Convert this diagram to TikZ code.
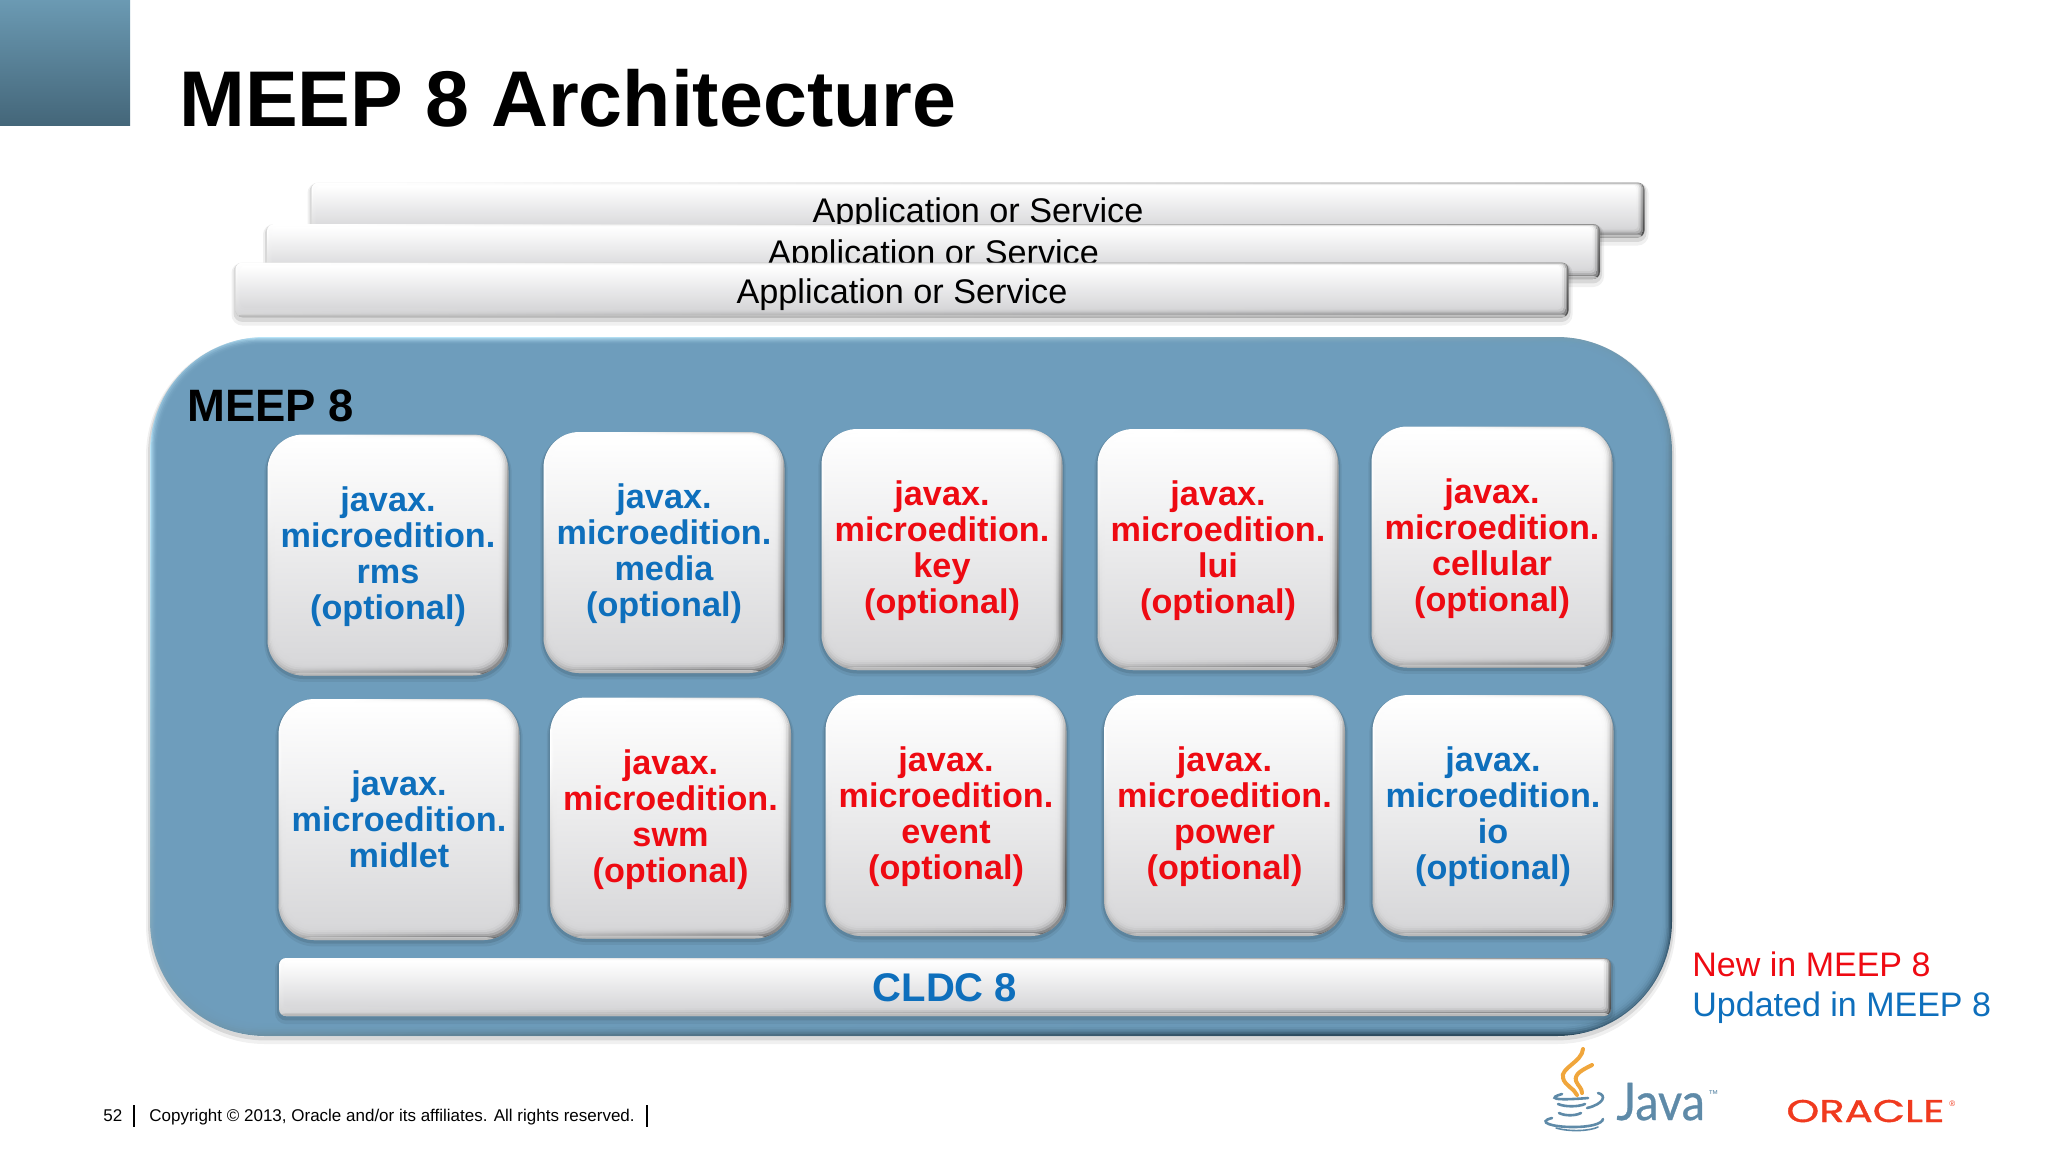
\documentclass[tikz,border=0pt]{standalone}
\usepackage{fontspec}
\setmainfont{Liberation Sans}
\newfontfamily\oraclefont{Poppins}[FakeBold=1.2,FakeStretch=1.33]
\newfontfamily\javafont{Lato}[FakeBold=0.6,FakeStretch=.9]
\usetikzlibrary{calc}
\definecolor{blu}{HTML}{0E6FBC}
\definecolor{rdd}{HTML}{EE0A12}
\definecolor{panelblue}{HTML}{6E9DBC}
\definecolor{facelow}{HTML}{D8D8DA}
\definecolor{jblue}{HTML}{5E8AA8}
\definecolor{HeadTop}{HTML}{6B9AB3}
\definecolor{HeadLow}{HTML}{446679}
\definecolor{HeadFlame}{HTML}{F0A63C}
\definecolor{OracleRed}{HTML}{F03A1E}
\definecolor{panellight}{HTML}{B8E4F8}
\definecolor{paneldark}{HTML}{2C4B5F}
\tikzset{
  soft shadow/.style={
    preaction={draw=black,opacity=.06,line width=#1*2pt,transform canvas={yshift=-#1*1pt}},
    preaction={draw=black,opacity=.10,line width=#1*1pt,transform canvas={yshift=-#1*.6pt}}},
  % face laid over a darker shaded base, a few insets to blur the edge
  face inset/.style n args={2}{path picture={
    \fill[gray!55] ($(path picture bounding box.south west)$) rectangle
      ($(path picture bounding box.south east)+(0pt,1.5pt)$);
    \foreach \d/\o in {#1}{
      \shade[top color=white,bottom color=facelow,opacity=\o,rounded corners=#2]
        ($(path picture bounding box.south west)+(\d*.5pt,\d*1pt)$) rectangle
        ($(path picture bounding box.north east)+(-\d*.8pt,-\d*.3pt)$);
    }}},
  key/.style={rectangle,rounded corners=18pt,minimum width=120.5pt,minimum height=120.5pt,
    inner sep=0pt,align=center,soft shadow=1.6,
    shade,top color=white,middle color=gray!60,bottom color=black!62,shading angle=40,
    face inset={1/.35,2/.4,3/.5,4/.6,5/.7,6/.8,7/1}{15pt},
    font=\fontsize{17.1}{18}\selectfont\bfseries},
  % fixed text height pushes the four line labels down a little
  key4/.style={key,text height=68pt},
  bar/.style={rectangle,rounded corners=3.5pt,minimum width=666.5pt,minimum height=27.5pt,
    inner sep=0pt,soft shadow=2,
    shade,top color=white,middle color=gray!70,bottom color=black!68,shading angle=6,
    face inset={1/.4,2/.5,3/.6,4/.8,5/1}{2pt},
    text height=15pt,text depth=2pt,font=\fontsize{17.1}{17}\selectfont},
  panel/.style={rectangle,rounded corners=57.5pt,minimum width=761pt,minimum height=349.5pt,
    inner sep=0pt,soft shadow=2,
    shade,top color=panellight,middle color=panelblue,bottom color=paneldark,
    shading angle=25,
    path picture={
      \foreach \d/\o in {1/.3,2/.35,3/.4,4/.5,5/.6,6/.7,7/1}{
        \fill[panelblue,opacity=\o,rounded corners=53pt]
          ($(path picture bounding box.south west)+(\d*.6pt,\d*.9pt)$) rectangle
          ($(path picture bounding box.north east)+(-\d*.7pt,-\d*.6pt)$);
      }}},
  lbl/.style={anchor=base west,inner sep=0pt},
  cup/.style={draw=jblue,line width=1.3pt,line cap=round},
  steam/.style={draw=HeadFlame,line width=2pt,line cap=round}
}
\begin{document}
\begin{tikzpicture}[x=0.5pt,y=-0.5pt]
\useasboundingbox (0,0) rectangle (2048,1152);
% corner block and title
\node[rectangle,minimum width=65pt,minimum height=63pt,inner sep=0pt,shade,
  top color=HeadTop,bottom color=HeadLow] (corner) at (65,62.5) {};
\node[lbl,font=\fontsize{39.5}{39.5}\selectfont\bfseries] (title) at (179,126) {MEEP 8 Architecture};
% stacked application bars, last one on top
\node[bar,text depth=2.7pt] (app3) at (978,210) {Application or Service};
\node[bar] (app2) at (933.5,251.5) {Application or Service};
\node[bar] (app1) at (902,290) {Application or Service};
% main panel
\node[panel] (meep) at (911,686.5) {};
\node[lbl,font=\fontsize{22.7}{22.7}\selectfont\bfseries] (meeplabel) at (187,421) {MEEP 8};
% first row
\node[key4,text=blu] (rms) at (388,555) {javax.\\microedition.\\rms\\(optional)};
\node[key4,text=blu] (media) at (664,552.5) {javax.\\microedition.\\media\\(optional)};
\node[key4,text=rdd] (keyapi) at (942,549.5) {javax.\\microedition.\\key\\(optional)};
\node[key4,text=rdd] (lui) at (1218,549.5) {javax.\\microedition.\\lui\\(optional)};
\node[key4,text=rdd] (cellular) at (1492,547) {javax.\\microedition.\\cellular\\(optional)};
% second row
\node[key,text=blu] (midlet) at (399,819.5) {javax.\\microedition.\\midlet};
\node[key4,text=rdd] (swm) at (670.5,818) {javax.\\microedition.\\swm\\(optional)};
\node[key4,text=rdd] (event) at (946,815.5) {javax.\\microedition.\\event\\(optional)};
\node[key4,text=rdd] (power) at (1224.5,815.5) {javax.\\microedition.\\power\\(optional)};
\node[key4,text=blu] (io) at (1493,815.5) {javax.\\microedition.\\io\\(optional)};
% CLDC bar
\node[bar,minimum width=666pt,minimum height=29pt,text=blu,text height=14.9pt,text depth=0pt,
  font=\fontsize{20}{20}\selectfont\bfseries] (cldc) at (945,987) {CLDC 8};
% legend
\node[lbl,text=rdd,font=\fontsize{17}{17}\selectfont] (newlabel) at (1692,976) {New in MEEP 8};
\node[lbl,text=blu,font=\fontsize{17}{17}\selectfont] (updlabel) at (1692,1016) {Updated in MEEP 8};
% footer
\node[lbl,font=\fontsize{8.5}{8.5}\selectfont] (pageno) at (103,1121) {52};
\node[lbl,font=\fontsize{8.5}{8.5}\selectfont] (copy) at (149,1121) {Copyright © 2013, Oracle and/or its affiliates. All rights reserved.};
\draw[line width=.7pt] (134,1105) -- (134,1127);
\draw[line width=.7pt] (647,1105) -- (647,1127);
% java logo
\draw[steam] (1583,1049) .. controls (1582,1062) and (1560,1068) .. (1563,1078) .. controls (1565,1086) and (1574,1088) .. (1577,1095);
\draw[steam] (1592,1065) .. controls (1582,1070) and (1574,1074) .. (1576,1081) .. controls (1578,1086) and (1582,1088) .. (1582,1093);
\draw[cup] (1562,1094) .. controls (1548,1098) and (1552,1101) .. (1588,1098);
\draw[cup] (1598,1093) .. controls (1607,1095) and (1604,1104) .. (1587,1108);
\draw[cup] (1558,1104) .. controls (1565,1107) and (1578,1107) .. (1585,1104);
\draw[cup] (1559,1113) .. controls (1565,1116) and (1575,1116) .. (1581,1113);
\draw[cup] (1552,1118) .. controls (1536,1122) and (1552,1127) .. (1573,1127) .. controls (1590,1127) and (1602,1124) .. (1603,1119);
\draw[cup,line width=.8pt] (1556,1128) .. controls (1570,1132) and (1590,1131) .. (1598,1127);
\node[lbl,text=jblue,font=\javafont\fontsize{26}{26}\selectfont] (java) at (1616,1120) {Java};
\node[lbl,text=jblue,font=\fontsize{5}{5}\selectfont] (javatm) at (1708,1097) {™};
% oracle wordmark
\node[lbl,text=OracleRed,font=\oraclefont\fontsize{15.7}{15.7}\selectfont] (oracle) at (1786,1122) {ORACLE};
\node[lbl,text=OracleRed,font=\fontsize{4}{4}\selectfont] (oraclereg) at (1949,1106) {®};
\end{tikzpicture}
\end{document}
